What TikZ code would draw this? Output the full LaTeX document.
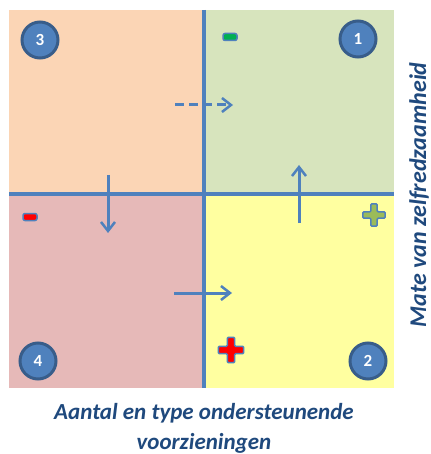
\documentclass[tikz,border=0pt]{standalone}
\usepackage{fontspec}
\setmainfont{Carlito}
\usetikzlibrary{positioning}
\usetikzlibrary{arrows.meta}
\definecolor{qorange}{RGB}{251,213,181}
\definecolor{qgreen}{RGB}{215,228,189}
\definecolor{qpink}{RGB}{230,185,184}
\definecolor{qyellow}{RGB}{255,255,160}
\definecolor{mblue}{RGB}{79,129,189}
\definecolor{mdark}{RGB}{56,93,138}
\definecolor{mtext}{RGB}{31,73,125}
\definecolor{sgreen}{RGB}{0,176,80}
\definecolor{sred}{RGB}{255,0,0}
\definecolor{solive}{RGB}{155,187,89}

\begin{document}
\begin{tikzpicture}[x=1pt, y=-1pt,
    quad/.style={inner sep=0pt, outer sep=0pt, anchor=north west},
    axis/.style={line width=4pt, mblue},
    badge/.style={circle, draw=mdark, line width=3pt, fill=mblue, minimum size=36pt, inner sep=0pt, text=white, font=\bfseries\fontsize{17}{17}\selectfont},
    minus_sign/.style={rounded corners=2pt, draw=mblue, line width=1.5pt, minimum width=14pt, minimum height=7pt, inner sep=0pt},
    arrow_move/.style={-{Straight Barb[length=9pt, width=14pt, line width=2.5pt]}, line width=3pt, mblue},
    arrow_dash/.style={arrow_move, dash pattern=on 9pt off 5pt},
    axis_label/.style={text=mtext, inner sep=0pt, font=\bfseries\itshape\fontsize{23}{30}\selectfont, align=center},
    plus sign/.pic={\path[pic actions] (-3.5,-12)--(3.5,-12)--(3.5,-3.5)--(12,-3.5)--(12,3.5)--(3.5,3.5)--(3.5,12)--(-3.5,12)--(-3.5,3.5)--(-12,3.5)--(-12,-3.5)--(-3.5,-3.5)--cycle;},
]
\useasboundingbox (0,0) rectangle (430,454);

% quadrants
\node[quad, fill=qorange, minimum width=195pt, minimum height=184pt] (q3) at (9,10) {};
\node[quad, fill=qgreen, minimum width=190pt, minimum height=184pt] (q1) at (204,10) {};
\node[quad, fill=qpink, minimum width=195pt, minimum height=194pt] (q4) at (9,194) {};
\node[quad, fill=qyellow, minimum width=190pt, minimum height=194pt] (q2) at (204,194) {};

% axes
\draw[axis] (q3.north east) -- (q4.south east);
\draw[axis] (q3.south west) -- (q2.north east);

% numbered badges
\node[badge] (n3) at (40,40) {3};
\node[badge] (n1) at (358,39) {1};
\node[badge] (n4) at (38,361) {4};
\node[badge] (n2) at (368,361) {2};

% signs
\node[minus_sign, fill=sgreen] (minus_green) at (230,37) {};
\node[minus_sign, fill=sred] (minus_red) at (30,217) {};
\pic[fill=solive, draw=mblue, line width=1.5pt, rounded corners=1pt, scale=0.92] at (374,215) {plus sign};
\pic[fill=sred, draw=mblue, line width=1.5pt, rounded corners=1pt, scale=1.05] at (231,350) {plus sign};

% movements
\coordinate (dash_start) at (175,105);
\coordinate[right=58pt of dash_start] (dash_end);
\coordinate (down_start) at (108,175);
\coordinate[below=58pt of down_start] (down_end);
\coordinate (up_start) at (299,223);
\coordinate[above=58pt of up_start] (up_end);
\coordinate (right_start) at (174,293);
\coordinate[right=58pt of right_start] (right_end);

\draw[arrow_dash] (dash_start) -- (dash_end);
\draw[arrow_move] (down_start) -- (down_end);
\draw[arrow_move] (up_start) -- (up_end);
\draw[arrow_move] (right_start) -- (right_end);

% axis labels
\node[axis_label] (xlabel) at (204,428) {Aantal en type ondersteunende\\voorzieningen};
\node[axis_label, rotate=90, anchor=base, font=\bfseries\itshape\fontsize{24}{30}\selectfont] (ylabel) at (426,195) {Mate van zelfredzaamheid};
\end{tikzpicture}
\end{document}
